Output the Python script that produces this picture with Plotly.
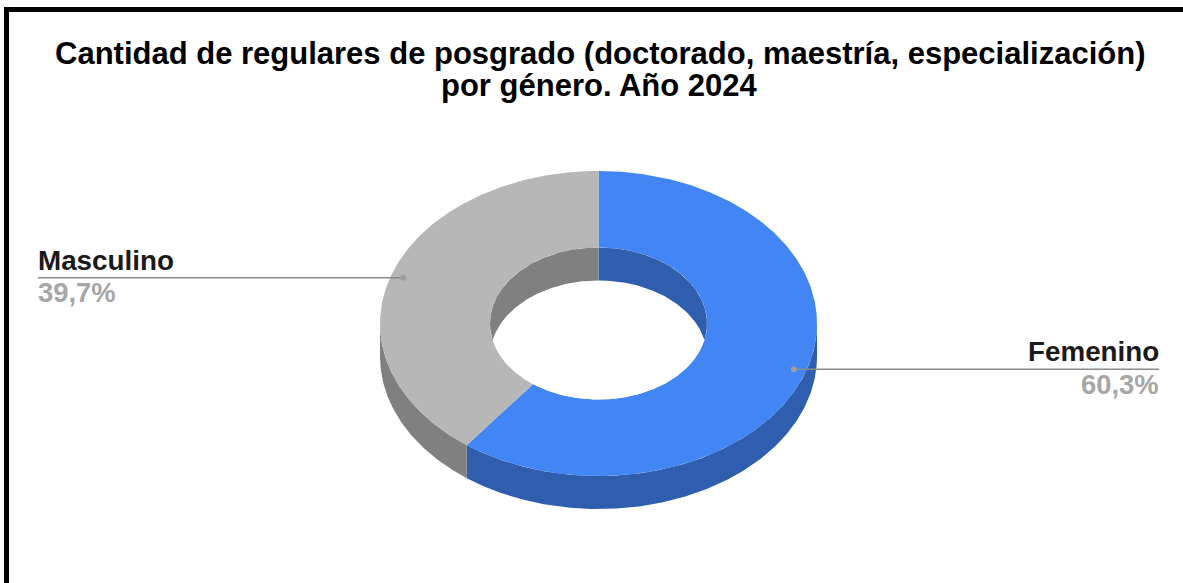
import numpy as np
import plotly.graph_objects as go

categories = ["Femenino", "Masculino"]
values = [60.3, 39.7]
value_labels = ["60,3%", "39,7%"]
title_lines = ["Cantidad de regulares de posgrado (doctorado, maestría, especialización)",
               "por género. Año 2024"]

TOP = {"Femenino": "#4285F4", "Masculino": "#B7B7B7"}
SIDE = {"Femenino": "#2E5EAD", "Masculino": "#808080"}

W, H = 1183, 583
CX, CY = 598.5, 323.5
RX, RY = 218.5, 152.5
IX, IY = 108.5, 76.0
DEPTH = 33.0
LABEL_F = 0.943


def pt(deg, rx, ry, dy=0.0):
    t = np.radians(deg)
    return CX + rx * np.sin(t), CY - ry * np.cos(t) + dy


def arc(a, b, rx, ry, dy=0.0):
    n = max(int(abs(b - a) * 2), 2)
    return pt(np.linspace(a, b, n), rx, ry, dy)


def poly(x, y, color, name):
    return go.Scatter(x=list(x), y=list(y), mode="lines", fill="toself", fillcolor=color,
                      line=dict(width=0, color=color), hoverinfo="skip",
                      showlegend=False, name=name)


total = sum(values)
spans = []
acc = 0.0
for v in values:
    spans.append((acc, acc + v / total * 360))
    acc += v / total * 360

fig = go.Figure()

# outer wall (visible where the rim faces the viewer: 90..270 degrees)
for cat, (a, b) in zip(categories, spans):
    lo, hi = max(a, 90), min(b, 270)
    if hi > lo:
        x1, y1 = arc(lo, hi, RX, RY)
        x2, y2 = arc(hi, lo, RX, RY, DEPTH)
        fig.add_trace(poly(np.r_[x1, x2], np.r_[y1, y2], SIDE[cat], cat + " lado"))

# top face
for cat, (a, b) in zip(categories, spans):
    x1, y1 = arc(a, b, RX, RY)
    x2, y2 = arc(b, a, IX, IY)
    fig.add_trace(poly(np.r_[x1, x2], np.r_[y1, y2], TOP[cat], cat))

# hole
hx, hy = arc(0, 360, IX, IY)
fig.add_trace(poly(hx, hy, "#FFFFFF", "hueco"))

# inner wall (visible on the far side: 270..90 degrees), cut at the near rim of the hole
for cat, (a, b) in zip(categories, spans):
    for lo, hi in ((max(a, 0), min(b, 90)), (max(a, 270), min(b, 360))):
        if hi <= lo:
            continue
        x1, y1 = arc(lo, hi, IX, IY)
        mirror = 2 * CY - y1
        y2 = np.minimum(y1 + DEPTH, mirror)
        fig.add_trace(poly(np.r_[x1, x1[::-1]], np.r_[y1, y2[::-1]], SIDE[cat], cat + " interior"))

annotations = []
for line, y in zip(title_lines, (53.5, 85.5)):
    annotations.append(dict(x=599.5, y=y, xref="x", yref="y", text="<b>%s</b>" % line, showarrow=False,
                            xanchor="center", yanchor="middle",
                            font=dict(family="Liberation Sans", size=31, color="#000000")))

# leader lines and labels
for cat, lab, (a, b) in zip(categories, value_labels, spans):
    mid = (a + b) / 2
    px, py = pt(mid, RX * LABEL_F, RY * LABEL_F)
    right = mid < 180
    end = 1159 if right else 38
    fig.add_trace(go.Scatter(x=[px, end], y=[py, py], mode="lines",
                             line=dict(color="#8A8A8A", width=1.5), hoverinfo="skip", showlegend=False))
    fig.add_trace(go.Scatter(x=[px], y=[py], mode="markers",
                             marker=dict(color="#9E9E9E", size=6), hoverinfo="skip", showlegend=False))
    anchor = "right" if right else "left"
    shift = 2 if right else -2
    annotations.append(dict(x=end, y=py - 17.5, xref="x", yref="y", text="<b>%s</b>" % cat, showarrow=False,
                            xanchor=anchor, yanchor="middle", xshift=shift,
                            font=dict(family="Liberation Sans", size=27.8, color="#1A1A1A")))
    annotations.append(dict(x=end, y=py + 15, xref="x", yref="y", text="<b>%s</b>" % lab, showarrow=False,
                            xanchor=anchor, yanchor="middle", xshift=shift,
                            font=dict(family="Liberation Sans", size=27.4, color="#A6A6A6")))

shapes = [
    dict(type="rect", xref="x", yref="y", x0=4, x1=9, y0=7, y1=H, fillcolor="#000000", line_width=0),
    dict(type="rect", xref="x", yref="y", x0=4, x1=W, y0=7, y1=12, fillcolor="#000000", line_width=0),
]

fig.update_layout(
    width=W, height=H, margin=dict(l=0, r=0, t=0, b=0, pad=0),
    paper_bgcolor="#FFFFFF", plot_bgcolor="#FFFFFF", showlegend=False,
    xaxis=dict(range=[0, W], visible=False, fixedrange=True),
    yaxis=dict(range=[H, 0], visible=False, fixedrange=True),
    annotations=annotations, shapes=shapes,
)
fig.write_html("out.html", config=dict(displayModeBar=False),
               post_script="document.body.style.margin='0';document.documentElement.style.overflow='hidden';")
